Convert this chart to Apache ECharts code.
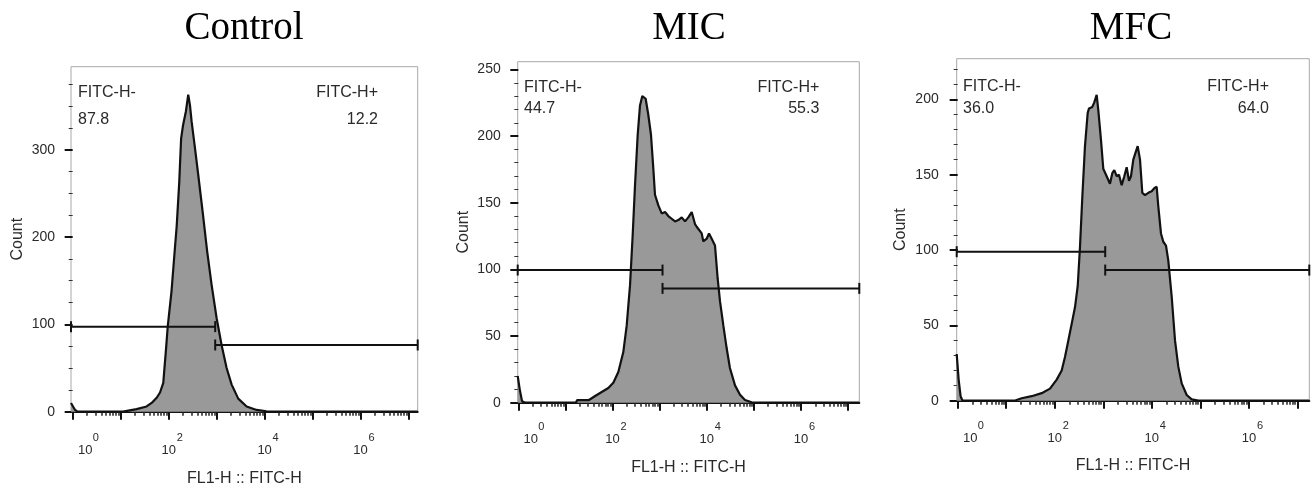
<!DOCTYPE html>
<html><head><meta charset="utf-8">
<script src="https://cdn.jsdelivr.net/npm/echarts@6/dist/echarts.min.js"></script>
<style>html,body{margin:0;padding:0;background:#fff}#c{width:1313px;height:488px}</style>
</head><body><div id="c"></div>
<script>
// ---------- data ----------
const panelTitles = ['Control', 'MIC', 'MFC'];
const xName = 'FL1-H :: FITC-H';
const yName = 'Count';
const gateNames = ['FITC-H-', 'FITC-H+'];
const majorDecades = [0, 1, 2, 3, 4, 5, 6, 7];
const labelDecades = [0, 2, 4, 6];
const minorFactors = [2, 3, 4, 5, 6, 7, 8, 9];

const controlXRange = [-0.035, 7.19];
const micXRange = [-0.013, 7.235];
const mfcXRange = [-0.02, 7.245];
const controlYMax = 395, micYMax = 255.8, mfcYMax = 227;
const controlYStep = 100, micYStep = 50, mfcYStep = 50;
const controlYMinorStep = 25, micYMinorStep = 10, mfcYMinorStep = 10;

// [log10(FL1-H), count]
const controlHist = [
  [-0.035, 10], [0.0, 8], [0.05, 2], [0.1, 0], [1.05, 0], [1.08, 2], [1.33, 3], [1.54, 6],
  [1.645, 10], [1.75, 16], [1.82, 22], [1.888, 33], [1.95, 75], [1.98, 97], [2.06, 138],
  [2.12, 180], [2.167, 212], [2.22, 262], [2.26, 313], [2.30, 328], [2.36, 344], [2.408, 363],
  [2.444, 351], [2.479, 332], [2.548, 302], [2.617, 271], [2.708, 229], [2.804, 183],
  [2.896, 145], [3.0, 107], [3.104, 76], [3.208, 50], [3.313, 31], [3.45, 15], [3.625, 6],
  [3.833, 2], [4.04, 0.5], [4.2, 0], [7.19, 0]
];
const micHist = [
  [-0.013, 20], [0.03, 10], [0.08, 1], [0.15, 0], [1.22, 0], [1.25, 2], [1.5, 2], [1.63, 5],
  [1.77, 8], [1.91, 11], [2.016, 15], [2.122, 23], [2.228, 38], [2.3, 58], [2.37, 88],
  [2.427, 126], [2.476, 163], [2.533, 201], [2.582, 223], [2.631, 230], [2.702, 228],
  [2.758, 216], [2.815, 201], [2.864, 176], [2.9, 156], [2.971, 148], [3.043, 142],
  [3.113, 143], [3.183, 140], [3.254, 138], [3.325, 136], [3.395, 137], [3.467, 139],
  [3.537, 136], [3.607, 139], [3.679, 143], [3.749, 134], [3.785, 132], [3.819, 133],
  [3.891, 127], [3.925, 121], [3.997, 123], [4.046, 127], [4.103, 123], [4.173, 118],
  [4.23, 93], [4.28, 76], [4.35, 58], [4.42, 41], [4.49, 26], [4.598, 13], [4.704, 6],
  [4.81, 2], [4.95, 0.3], [5.05, 0], [7.235, 0]
];
const mfcHist = [
  [-0.02, 31], [0.02, 14], [0.06, 3], [0.1, 0], [1.17, 0], [1.2, 1], [1.318, 1.6], [1.525, 3],
  [1.731, 5], [1.902, 8], [2.04, 14], [2.143, 20], [2.211, 29], [2.28, 40], [2.349, 51],
  [2.417, 62], [2.473, 76], [2.52, 102], [2.568, 135], [2.623, 169], [2.679, 191],
  [2.706, 194], [2.774, 195], [2.815, 198], [2.864, 203], [2.897, 193], [2.953, 173],
  [3.0, 154], [3.07, 149], [3.138, 144], [3.186, 151], [3.227, 153], [3.276, 149],
  [3.324, 150], [3.379, 143], [3.433, 149], [3.482, 155], [3.53, 146], [3.571, 149],
  [3.619, 160], [3.668, 165], [3.709, 169], [3.757, 160], [3.804, 138], [3.86, 136.5],
  [3.928, 138], [3.997, 139], [4.051, 141], [4.1, 142], [4.134, 129], [4.189, 111],
  [4.237, 105.5], [4.292, 103], [4.34, 93], [4.41, 69], [4.478, 40], [4.546, 22.6],
  [4.616, 11.5], [4.719, 3.8], [4.822, 0.9], [4.958, 0], [7.245, 0]
];

// gate: [xStart, xEnd, height]
const controlGates = [[-0.035, 2.97, 97.4], [2.97, 7.19, 76.4]];
const micGates = [[-0.013, 3.06, 99.5], [3.06, 7.235, 85.75]];
const mfcGates = [[-0.02, 3.04, 98.9], [3.04, 7.245, 86.7]];

const controlPct = ['87.8', '12.2'];
const micPct = ['44.7', '55.3'];
const mfcPct = ['36.0', '64.0'];

// ---------- layout / style ----------
const panels = [
  { hist: controlHist, gates: controlGates, pct: controlPct, xr: controlXRange, ymax: controlYMax, ystep: controlYStep, yminor: controlYMinorStep,
    left: 71, top: 66.7, width: 346.7, height: 345, yLabelMargin: 16, yNameGap: 45, xNameGap: 59, baseMargin: 32, expMargin: 21,
    titleX: 244, textLeft: 78, textRight: 378, textY1: 92.5, textY2: 120 },
  { hist: micHist, gates: micGates, pct: micPct, xr: micXRange, ymax: micYMax, ystep: micYStep, yminor: micYMinorStep,
    left: 517.7, top: 61.7, width: 341.6, height: 341, yLabelMargin: 17, yNameGap: 46, xNameGap: 56.5, baseMargin: 30, expMargin: 19,
    titleX: 689, textLeft: 524, textRight: 819.3, textY1: 88, textY2: 109 },
  { hist: mfcHist, gates: mfcGates, pct: mfcPct, xr: mfcXRange, ymax: mfcYMax, ystep: mfcYStep, yminor: mfcYMinorStep,
    left: 956.7, top: 58.7, width: 352.6, height: 342, yLabelMargin: 18, yNameGap: 48, xNameGap: 57, baseMargin: 31, expMargin: 20,
    titleX: 1131, textLeft: 963, textRight: 1269, textY1: 86.5, textY2: 109 }
];

const SANS = '"Liberation Sans", Arial, sans-serif';
const SERIF = '"Liberation Serif", "Times New Roman", serif';
const TXT = '#2a2a2a';
const INK = '#111';

function xMinorValues(range) {
  const out = [];
  majorDecades.forEach(d => minorFactors.forEach(k => {
    const v = d + Math.log10(k);
    if (v > range[0] && v < range[1]) out.push(v);
  }));
  return out;
}
function yMajorValues(max, step) {
  const out = [];
  for (let v = 0; v <= max + 1e-9; v += step) out.push(v);
  return out;
}
function yMinorValues(max, step, minor) {
  const out = [];
  for (let v = minor; v < max; v += minor) {
    if (Math.abs(v / step - Math.round(v / step)) > 1e-6) out.push(v);
  }
  return out;
}

const grid = [], xAxis = [], yAxis = [], series = [], graphic = [];

panels.forEach((p, i) => {
  grid.push({ left: p.left, top: p.top, width: p.width, height: p.height, show: true,
    containLabel: false, outerBoundsMode: 'none',
    borderColor: '#a8a8a8', borderWidth: 1, backgroundColor: 'transparent' });

  // major x axis: decade ticks + "10" base of the labels
  xAxis.push({
    type: 'value', gridIndex: i, position: 'bottom', min: p.xr[0], max: p.xr[1],
    axisLine: { show: true, onZero: false, lineStyle: { color: INK, width: 2 } },
    axisTick: { show: true, customValues: majorDecades.filter(v => v >= p.xr[0] && v <= p.xr[1]), length: 8, lineStyle: { color: INK, width: 2 } },
    axisLabel: {
      show: true, customValues: labelDecades, margin: p.baseMargin, color: TXT, fontFamily: SANS, fontSize: 13,
      formatter: v => (Math.round(v) === 0 ? '{p|10}' : '10'),
      rich: { p: { padding: [0, 0, 0, 25], fontSize: 13, color: TXT, fontFamily: SANS } }
    },
    splitLine: { show: false },
    name: xName, nameLocation: 'middle', nameGap: p.xNameGap,
    nameTextStyle: { fontSize: 16, color: TXT, fontFamily: SANS }
  });
  // minor x axis: log minor ticks + exponent labels
  xAxis.push({
    type: 'value', gridIndex: i, position: 'bottom', min: p.xr[0], max: p.xr[1],
    axisLine: { show: false },
    axisTick: { show: true, customValues: xMinorValues(p.xr), length: 4, lineStyle: { color: '#222', width: 1.5 } },
    axisLabel: {
      show: true, customValues: labelDecades, margin: p.expMargin, align: 'left', color: TXT, fontFamily: SANS, fontSize: 11,
      formatter: v => (Math.round(v) === 0 ? '{q|0}' : '{e|' + Math.round(v) + '}'),
      rich: {
        e: { padding: [0, 0, 0, 8], fontSize: 11, color: TXT, fontFamily: SANS },
        q: { padding: [0, 0, 0, 20], fontSize: 11, color: TXT, fontFamily: SANS }
      }
    },
    splitLine: { show: false }
  });

  yAxis.push({
    type: 'value', gridIndex: i, position: 'left', min: 0, max: p.ymax,
    axisLine: { show: false },
    axisTick: { show: true, customValues: yMajorValues(p.ymax, p.ystep), length: 8, lineStyle: { color: INK, width: 2 } },
    axisLabel: { customValues: yMajorValues(p.ymax, p.ystep), margin: p.yLabelMargin, fontSize: 14, color: TXT, fontFamily: SANS },
    splitLine: { show: false },
    name: yName, nameLocation: 'middle', nameGap: p.yNameGap,
    nameTextStyle: { fontSize: 16, color: TXT, fontFamily: SANS }
  });
  yAxis.push({
    type: 'value', gridIndex: i, position: 'left', min: 0, max: p.ymax,
    axisLine: { show: false },
    axisTick: { show: true, customValues: yMinorValues(p.ymax, p.ystep, p.yminor), length: 4, lineStyle: { color: '#333', width: 1 } },
    axisLabel: { show: false }, splitLine: { show: false }
  });

  series.push({
    type: 'line', xAxisIndex: 2 * i, yAxisIndex: 2 * i, data: p.hist,
    symbol: 'none', smooth: false, z: 2,
    lineStyle: { color: INK, width: 2.2 },
    areaStyle: { color: '#999999', opacity: 1 }
  });
  series.push({
    type: 'custom', xAxisIndex: 2 * i, yAxisIndex: 2 * i, data: p.gates, z: 5,
    encode: { x: [0, 1], y: 2 },
    renderItem: (params, api) => {
      const a = api.coord([api.value(0), api.value(2)]);
      const b = api.coord([api.value(1), api.value(2)]);
      const st = { stroke: INK, lineWidth: 2 };
      const h = 5.5;
      return { type: 'group', children: [
        { type: 'line', shape: { x1: a[0], y1: a[1], x2: b[0], y2: b[1] }, style: st },
        { type: 'line', shape: { x1: a[0], y1: a[1] - h, x2: a[0], y2: a[1] + h }, style: st },
        { type: 'line', shape: { x1: b[0], y1: b[1] - h, x2: b[0], y2: b[1] + h }, style: st }
      ]};
    }
  });

  const tstyle = { fontSize: 16, fontFamily: SANS, fill: TXT, verticalAlign: 'middle' };
  graphic.push({ type: 'text', x: p.textLeft, y: p.textY1, style: Object.assign({ text: gateNames[0], align: 'left' }, tstyle) });
  graphic.push({ type: 'text', x: p.textLeft, y: p.textY2, style: Object.assign({ text: p.pct[0], align: 'left' }, tstyle) });
  graphic.push({ type: 'text', x: p.textRight, y: p.textY1, style: Object.assign({ text: gateNames[1], align: 'right' }, tstyle) });
  graphic.push({ type: 'text', x: p.textRight, y: p.textY2, style: Object.assign({ text: p.pct[1], align: 'right' }, tstyle) });
  graphic.push({ type: 'text', x: p.titleX, y: 29, style: { text: panelTitles[i], fontSize: 39, fontFamily: SERIF, fill: '#000', align: 'center', verticalAlign: 'middle' } });
});

const chart = echarts.init(document.getElementById('c'), null, { renderer: 'canvas' });
chart.setOption({ animation: false, backgroundColor: '#fff', grid, xAxis, yAxis, series, graphic });
</script>
</body></html>
